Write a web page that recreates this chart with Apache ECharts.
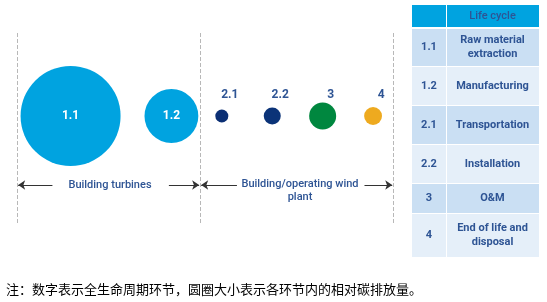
<!DOCTYPE html>
<html>
<head>
<meta charset="utf-8">
<script src="https://cdn.jsdelivr.net/npm/echarts@6/dist/echarts.min.js"></script>
<style>
  html, body { margin: 0; padding: 0; background: #fff; }
  #main { width: 547px; height: 302px; }
</style>
</head>
<body>
<div id="main"></div>
<script>
// life cycle stages (codes), their slot along the x axis, relative carbon emission
var stageCodes = ['1.1', '1.2', '2.1', '2.2', '3', '4'];
var stageSlots = [0, 2, 3, 4, 5, 6];
var relEmission = [100, 29, 1.7, 2.9, 7.3, 3.2];
var stageColors = ['#00a3e0', '#00a3e0', '#0b2f74', '#0b3378', '#00873f', '#eeaa1f'];

// groups separated by dashed lines
var groupBounds = [-1.06, 2.57, 6.4];
var groupNames = ['Building turbines', 'Building/operating wind\nplant'];

// table
var tableCodes = ['1.1', '1.2', '2.1', '2.2', '3', '4'];
var tableNames = ['Raw material\nextraction', 'Manufacturing', 'Transportation', 'Installation', 'O&M', 'End of life and\ndisposal'];
var tableHeader = 'Life cycle';

var note = '注：数字表示全生命周期环节，圆圈大小表示各环节内的相对碳排放量。';

var chart = echarts.init(document.getElementById('main'));

var txtBlue = '#2e5494';
var arrowY = -0.69;

var points = stageCodes.map(function (c, i) {
  var p = { value: [stageSlots[i], 0, relEmission[i]], name: c, itemStyle: { color: stageColors[i], opacity: 1 } };
  if (i < 2) p.label = { color: '#fff' };
  return p;
});

// dashed separators
var lines = groupBounds.map(function (b) {
  return [{ coord: [b, 0.83], symbol: 'none' }, { coord: [b, -1.09], symbol: 'none',
    lineStyle: { type: 'dashed', color: '#b8b8b8', width: 1 } }];
});
// arrows (text sits in the gap)
var gaps = [[-0.36, 1.95], [3.3, 5.83]];
for (var g = 0; g < 2; g++) {
  var a = groupBounds[g], b = groupBounds[g + 1];
  var ls = { type: 'solid', color: '#333', width: 1 };
  lines.push([{ coord: [gaps[g][0], arrowY], symbol: 'none' }, { coord: [a + 0.02, arrowY], symbol: 'arrow', lineStyle: ls }]);
  lines.push([{ coord: [gaps[g][1], arrowY], symbol: 'none' }, { coord: [b - 0.02, arrowY], symbol: 'arrow', lineStyle: ls }]);
}

// table graphic
var tX = 412, tCol = 446, tR = 539;
var rowTop = [29, 67, 106, 145, 184, 214];
var rowH = [37, 38, 38, 38, 29, 43];
var rowFill = ['#cadff3', '#e5eff9', '#cadff3', '#e5eff9', '#cadff3', '#e5eff9'];
var tbl = [];
tbl.push({ type: 'rect', shape: { x: tX, y: 5, width: tCol - tX, height: 22 }, style: { fill: '#00a3e0' } });
tbl.push({ type: 'rect', shape: { x: tCol + 1, y: 5, width: tR - tCol - 1, height: 22 }, style: { fill: '#00a3e0' } });
tbl.push({ type: 'text', x: (tCol + tR) / 2, y: 16, style: { text: tableHeader, fill: txtBlue, font: '500 11px Roboto', align: 'center', verticalAlign: 'middle' } });
tableCodes.forEach(function (c, i) {
  tbl.push({ type: 'rect', shape: { x: tX, y: rowTop[i], width: tCol - tX, height: rowH[i] }, style: { fill: rowFill[i] } });
  tbl.push({ type: 'rect', shape: { x: tCol + 1, y: rowTop[i], width: tR - tCol - 1, height: rowH[i] }, style: { fill: rowFill[i] } });
  var cy = rowTop[i] + rowH[i] / 2;
  tbl.push({ type: 'text', x: (tX + tCol) / 2, y: cy, style: { text: c, fill: txtBlue, font: 'bold 11px Roboto', align: 'center', verticalAlign: 'middle' } });
  tbl.push({ type: 'text', x: (tCol + tR) / 2, y: cy, style: { text: tableNames[i], fill: txtBlue, font: 'bold 11px Roboto', align: 'center', verticalAlign: 'middle', lineHeight: 14 } });
});

var option = {
  animation: false,
  grid: { left: 0, right: 0, top: 0, bottom: 0 },
  xAxis: { type: 'value', min: -1.4, max: 9.45, show: false },
  yAxis: { type: 'value', min: -1.86, max: 1.16, show: false },
  series: [
    {
      type: 'scatter',
      data: points,
      symbolSize: function (d) { return 10 * Math.sqrt(d[2]); },
      label: {
        show: true,
        formatter: '{b}',
        fontFamily: 'Roboto',
        fontWeight: 'bold',
        fontSize: 12,
        position: 'top',
        color: txtBlue
      },
      labelLayout: function (p) {
        if (p.dataIndex < 2) {
          return { x: p.rect.x + p.rect.width / 2 - p.labelRect.width / 2, y: p.rect.y + p.rect.height / 2 - p.labelRect.height / 2 };
        }
        return { x: p.rect.x + p.rect.width / 2 - p.labelRect.width / 2 + 8, y: 89 };
      },
      silent: true,
      markLine: { silent: true, symbolSize: 7, label: { show: false }, data: lines, animation: false }
    }
  ],
  graphic: [
    { type: 'text', x: 110, y: 185, style: { text: groupNames[0], fill: txtBlue, font: '500 11px Roboto', align: 'center', verticalAlign: 'middle' } },
    { type: 'text', x: 300, y: 191, style: { text: groupNames[1], fill: txtBlue, font: '500 11px Roboto', align: 'center', verticalAlign: 'middle', lineHeight: 13 } },
    { type: 'group', children: tbl },
    { type: 'text', x: 6, y: 289, style: { text: note, fill: '#000', font: '13px "Noto Sans CJK SC"', verticalAlign: 'middle' } }
  ]
};

chart.setOption(option);
</script>
</body>
</html>
